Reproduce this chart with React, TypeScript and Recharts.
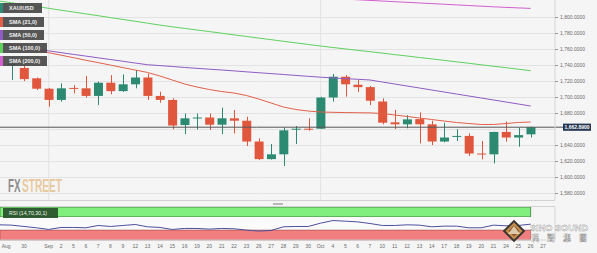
import React from 'react'
import {
  ComposedChart,
  Bar,
  Line,
  XAxis,
  YAxis,
  CartesianGrid,
  ReferenceLine,
  ReferenceArea,
} from 'recharts'

// trading days Aug 26 .. Oct 27 (first one only feeds the moving averages)
const dayLabels = [
  '', '', '30', '', 'Sep', '2', '5', '6', '7', '8', '9', '12', '13', '14', '15', '16',
  '19', '20', '21', '22', '23', '26', '27', '28', '29', '30', 'Oct', '4', '5', '6', '7',
  '10', '11', '12', '13', '14', '17', '18', '19', '20', '21', '24', '25', '26', '27',
]
const leadLabel = 'Aug'

const opens = [
  null, 1741, 1737, 1724, 1711, 1697, 1712, 1711.5, 1702, 1718.5, 1708, 1716.5, 1725, 1702, 1697,
  1665.6, 1674, 1675, 1666, 1674, 1671, 1645, 1623, 1629, 1660, 1661, 1661, 1700, 1726, 1716,
  1713, 1695, 1669, 1666.5, 1673, 1666.5, 1645, 1651, 1652, 1630, 1629, 1657, 1650, 1654, null,
]
const highs = [
  null, 1746, 1741, 1725, 1712, 1717.7, 1715.6, 1727, 1719.8, 1728, 1729, 1734.4, 1730, 1707.3,
  1699, 1680, 1680, 1680, 1687.3, 1684.4, 1676, 1649, 1641.9, 1662.7, 1664.4, 1674, 1701, 1729.4,
  1728, 1722, 1714.4, 1699, 1684.4, 1678, 1681.5, 1671, 1668.5, 1660.3, 1655.2, 1645.6, 1657.2,
  1669.9, 1662.3, 1663.5, null,
]
const lows = [
  null, 1722, 1720.6, 1709.4, 1688.5, 1694.8, 1705.2, 1699.8, 1690.6, 1704, 1707, 1711.5, 1697,
  1693.5, 1660.3, 1654.4, 1660, 1659.4, 1654.4, 1655, 1639.4, 1621.9, 1622.5, 1614.4, 1641.9,
  1658.5, 1660.6, 1694.8, 1701, 1707, 1690.6, 1666.5, 1660.6, 1661.5, 1642.7, 1640.6, 1644,
  1645.6, 1626.9, 1622.7, 1617.7, 1644.8, 1638.5, 1650, null,
]
const closes = [
  null, 1742, 1723, 1711, 1697, 1711.5, 1711, 1702, 1718.5, 1708, 1716.5, 1725, 1702, 1697, 1665,
  1674, 1675, 1666, 1674, 1671, 1645, 1623, 1629, 1659, 1661, 1660, 1700, 1726, 1716.5, 1713,
  1696, 1668.5, 1666.5, 1672.7, 1666.5, 1645, 1650, 1652, 1630, 1629, 1657, 1650, 1653, 1662.89,
  null,
]

const sma21 = [
  1768.1, 1765.3, 1762.1, 1759, 1756, 1752.9, 1749.8, 1746.6, 1743.6, 1740.5, 1737.4, 1734.4,
  1731.3, 1726.9, 1721.9, 1716.9, 1713.1, 1710, 1707.5, 1705.6, 1702.5, 1698.1, 1693.1, 1688.1,
  1685, 1683.1, 1681.9, 1681.5, 1681.2, 1681, 1680.8, 1680, 1678.1, 1676.3, 1674.4, 1672.5,
  1670.6, 1668.8, 1667.5, 1666.3, 1666.3, 1667.5, 1668.8, 1669.4, null,
]
const sma50 = [
  1766.9, 1764.8, 1762.6, 1760.4, 1758.3, 1756.1, 1753.9, 1751.8, 1749.6, 1747.5, 1745.3, 1743.1,
  1741, 1739.9, 1738.8, 1737.6, 1736.5, 1735.4, 1734.4, 1733.3, 1732.1, 1731, 1729.9, 1728.8,
  1727.6, 1726.5, 1725.4, 1724.5, 1723.6, 1722.8, 1721.9, 1719.4, 1716.9, 1714.4, 1711.9, 1709.4,
  1706.9, 1704.4, 1701.9, 1699.4, 1696.9, 1694.4, 1691.9, 1689.4, null,
]
const sma100 = [
  1820.6, 1818.4, 1816.1, 1813.8, 1811.5, 1809.1, 1806.9, 1804.5, 1802.3, 1799.9, 1797.6, 1795.3,
  1792.9, 1790.5, 1788.4, 1786.4, 1784.4, 1782.4, 1780.4, 1778.3, 1776.3, 1774.3, 1772.3, 1770.3,
  1768.3, 1766.3, 1764.4, 1762.5, 1760.8, 1759, 1757.3, 1755.5, 1753.6, 1751.9, 1750, 1748.3,
  1746.4, 1744.6, 1742.8, 1740.9, 1739.1, 1737.3, 1735.4, 1733.5, null,
]
const sma200 = [
  1845.3, 1844.5, 1843.7, 1842.9, 1842.1, 1841.3, 1840.5, 1839.8, 1839, 1838.2, 1837.4, 1836.6,
  1835.8, 1835, 1834.2, 1833.4, 1832.6, 1831.8, 1831, 1830.2, 1829.4, 1828.6, 1827.8, 1827,
  1826.2, 1825.4, 1824.6, 1823.8, 1823, 1822.2, 1821.4, 1820.6, 1819.8, 1819, 1818.2, 1817.4,
  1816.6, 1815.8, 1815, 1814.2, 1813.4, 1812.7, 1812, 1811.4, null,
]
const rsi = [
  46, 45, 41, 37, 32, 38, 38, 37, 44, 41, 44, 47, 40, 38, 32, 35, 35, 33, 35, 34, 30, 27, 29, 40,
  41, 41, 51, 59, 57, 55, 50, 44, 44, 46, 45, 40, 42, 42, 37, 37, 45, 43, 44, 48, null,
]

const yTicks = [1580, 1600, 1620, 1640, 1680, 1700, 1720, 1740, 1760, 1780, 1800]
const gridLevels = [1580, 1600, 1620, 1640, 1660, 1680, 1700, 1720, 1740, 1760, 1780, 1800]

const seriesNames = ['XAU/USD', 'SMA (21,0)', 'SMA (50,0)', 'SMA (100,0)', 'SMA (200,0)']
const seriesColors = ['#2e8b74', '#e2604b', '#8e5cc4', '#5fd05f', '#d25fd0']

const RED = '#e0573d'
const GREEN = '#2d8a72'
const FONT = '"Liberation Sans", Arial, sans-serif'

const rows = dayLabels.map((label, i) => ({
  x: i - 1,
  label,
  o: opens[i],
  h: highs[i],
  l: lows[i],
  c: closes[i],
  sma21: sma21[i],
  sma50: sma50[i],
  sma100: sma100[i],
  sma200: sma200[i],
  rsi: rsi[i],
}))

const candleRows = rows.filter((r) => r.c != null)
const last = candleRows[candleRows.length - 1]
const lastIdx = last.x
const monthStarts = rows.filter((r) => r.label === 'Sep' || r.label === 'Oct').map((r) => r.x)
const xDomain = [-0.942, 43.97]
const dayTicks = rows.filter((r) => r.x >= 0).map((r) => r.x)
const labelTicks = [-0.45, ...rows.filter((r) => r.label !== '').map((r) => r.x)]

const fmtPrice = (v: number) =>
  v.toLocaleString('en-US', { minimumFractionDigits: 4, maximumFractionDigits: 4 })

const fmtDay = (v: number) => {
  if (!Number.isInteger(v)) return leadLabel
  const r = rows.find((d) => d.x === v)
  return r ? r.label : ''
}

const Candle = (props: any) => {
  const { x, y, width, height, payload } = props
  if (payload == null || payload.o == null) return null
  const { o, h, l, c } = payload
  const color = c >= o ? GREEN : RED
  const top = Math.min(y, y + height)
  const span = Math.abs(height)
  const k = h - l > 0 ? span / (h - l) : 0
  const bTop = top + (h - Math.max(o, c)) * k
  const bBot = top + (h - Math.min(o, c)) * k
  const cx = Math.round(x + width / 2) + 0.5
  return (
    <g>
      <line x1={cx} x2={cx} y1={top} y2={top + span} stroke={color} strokeWidth={1} />
      <rect x={x} y={bTop} width={width} height={Math.max(1, bBot - bTop)} fill={color} />
    </g>
  )
}

const PriceTag = (props: any) => {
  const { viewBox } = props
  if (!viewBox) return null
  const right = viewBox.x + viewBox.width
  const y = viewBox.y
  return (
    <g>
      <line x1={right} x2={right + 9} y1={y} y2={y} stroke="#555" strokeWidth={1} />
      <rect x={right + 8} y={y - 3.6} width={28} height={7.2} fill="#263652" />
      <text
        x={right + 22}
        y={y + 1.8}
        fontSize={5}
        fontWeight="bold"
        fill="#fff"
        textAnchor="middle"
        fontFamily={FONT}
      >
        {fmtPrice(last.c as number)}
      </text>
    </g>
  )
}

export default function App() {
  return (
    <div
      style={{
        position: 'fixed',
        left: 0,
        top: 0,
        width: 597,
        height: 253,
        background: '#f5f5f5',
        overflow: 'hidden',
        fontFamily: FONT,
      }}
    >
      <ComposedChart
        width={597}
        height={200}
        data={rows}
        margin={{ top: 0, right: 0, bottom: 0, left: 0 }}
        style={{ position: 'absolute', left: 0, top: 0 }}
      >
        <CartesianGrid
          stroke="#e3e3e3"
          horizontalValues={gridLevels}
          verticalValues={monthStarts}
        />
        <XAxis
          dataKey="x"
          type="number"
          domain={xDomain}
          ticks={dayTicks}
          allowDataOverflow
          hide
        />
        <YAxis
          orientation="right"
          width={42}
          domain={[1571.9, 1821.9]}
          allowDataOverflow
          ticks={yTicks}
          interval={0}
          tickFormatter={fmtPrice}
          tick={{ fontSize: 5, fill: '#6a6a6a', fontFamily: FONT }}
          tickSize={3}
          tickMargin={2}
          tickLine={{ stroke: '#9a9a9a' }}
          axisLine={{ stroke: '#d6d6d6' }}
        />
        <Bar
          dataKey={(d: any) => (d.o == null ? null : [d.l, d.h])}
          barSize={9}
          shape={<Candle />}
          isAnimationActive={false}
        />
        <Line dataKey="sma200" stroke={seriesColors[4]} strokeWidth={1} dot={false} isAnimationActive={false} />
        <Line dataKey="sma100" stroke={seriesColors[3]} strokeWidth={1} dot={false} isAnimationActive={false} />
        <Line dataKey="sma50" stroke={seriesColors[2]} strokeWidth={1} dot={false} isAnimationActive={false} />
        <Line dataKey="sma21" stroke={seriesColors[1]} strokeWidth={1} dot={false} isAnimationActive={false} />
        <ReferenceLine y={last.c as number} stroke="#555" strokeWidth={1} label={<PriceTag />} />
      </ComposedChart>

      <div style={{ position: 'absolute', left: 0, top: 200, width: 555, height: 1, background: '#d2d2d2' }} />
      <div style={{ position: 'absolute', left: 273, top: 203, width: 10, height: 2, background: '#b8b8b8' }} />

      <ComposedChart
        width={597}
        height={53}
        data={rows}
        margin={{ top: 7, right: 0, bottom: 0, left: 0 }}
        style={{ position: 'absolute', left: 0, top: 200 }}
      >
        <XAxis
          dataKey="x"
          type="number"
          domain={xDomain}
          ticks={labelTicks}
          interval={0}
          allowDataOverflow
          tickFormatter={fmtDay}
          tick={{ fontSize: 5, fill: '#6a6a6a', fontFamily: FONT }}
          tickLine={false}
          tickSize={0}
          axisLine={{ stroke: '#d6d6d6' }}
          tickMargin={4.5}
          height={13}
        />
        <YAxis
          orientation="right"
          width={42}
          domain={[0, 100]}
          ticks={[]}
          tick={false}
          axisLine={{ stroke: '#d6d6d6' }}
        />
        <ReferenceArea x1={xDomain[0]} x2={lastIdx} y1={70} y2={100} fill="#80ef7e" fillOpacity={1} stroke="#3b7a3b" strokeWidth={0.8} />
        <ReferenceArea x1={xDomain[0]} x2={lastIdx} y1={30} y2={70} fill="#fbfbfb" fillOpacity={1} />
        <ReferenceArea x1={xDomain[0]} x2={lastIdx} y1={0} y2={30} fill="#f17f7f" fillOpacity={1} stroke="#a04848" strokeWidth={0.6} />
        <CartesianGrid stroke="#e3e3e3" horizontal={false} verticalValues={monthStarts} />
        <Line dataKey="rsi" stroke="#4c4f9c" strokeWidth={1} dot={false} isAnimationActive={false} />
      </ComposedChart>
      <div style={{ position: 'absolute', left: 0, top: 206, width: 555, height: 1, background: '#d2d2d2' }} />

      {seriesNames.map((name, i) => (
        <div
          key={name}
          style={{
            position: 'absolute',
            left: 0,
            top: [3, 17, 30, 43, 56][i],
            height: 10,
            width: [42, 44, 44, 47, 47][i],
            display: 'flex',
            alignItems: 'center',
            boxSizing: 'border-box',
            background: 'rgba(72,72,72,0.92)',
            borderLeft: `3px solid ${seriesColors[i]}`,
            color: '#f2f2f2',
            fontSize: 5.5,
            fontWeight: 'bold',
            paddingLeft: 6,
            whiteSpace: 'nowrap',
          }}
        >
          {name}
        </div>
      ))}

      <div
        style={{
          position: 'absolute',
          left: 3,
          top: 208,
          width: 55,
          height: 9.5,
          background: 'rgba(40,80,42,0.92)',
          color: '#f2f2f2',
          fontSize: 5.2,
          display: 'flex',
          alignItems: 'center',
          paddingLeft: 6,
          boxSizing: 'border-box',
          whiteSpace: 'nowrap',
        }}
      >
        RSI (14,70,30,1)
      </div>

      <svg width={597} height={253} style={{ position: 'absolute', left: 0, top: 0, pointerEvents: 'none' }}>
        <g transform="translate(8,192) scale(1,1.9)">
          <text x={0} y={0} fontSize={10} fontWeight="bold" fontFamily={FONT} fill="#8d8d8f" textLength={12.5} lengthAdjust="spacingAndGlyphs">
            FX
          </text>
          <text x={14} y={0} fontSize={10} fontWeight="bold" fontFamily={FONT} fill="#e8c9a0" textLength={40} lengthAdjust="spacingAndGlyphs">
            STREET
          </text>
        </g>

        <g transform="translate(514,231) rotate(45)">
          <rect x={-8} y={-8} width={16} height={16} fill="#3a3530" />
          <rect x={-6} y={-6} width={12} height={12} fill="#c8904f" />
          <rect x={-4} y={-4} width={8} height={8} fill="#8a5a30" />
        </g>
        <path d="M508 234 L514 226 L520 234 Z" fill="#f4e4c8" opacity={0.8} />
        <text x={530} y={230.5} fontSize={9} fontWeight="bold" fill="#fff" fontFamily={FONT} textLength={58} lengthAdjust="spacingAndGlyphs" stroke="#777" strokeWidth={0.3} opacity={0.92}>
          SINO SOUND
        </text>
        <text x={531} y={241} fontSize={8} fontWeight="bold" fill="#fff" fontFamily={'"Noto Sans CJK TC", sans-serif'} textLength={56} lengthAdjust="spacing" stroke="#888" strokeWidth={0.3} opacity={0.9}>
          漢聲集團
        </text>
      </svg>
    </div>
  )
}
